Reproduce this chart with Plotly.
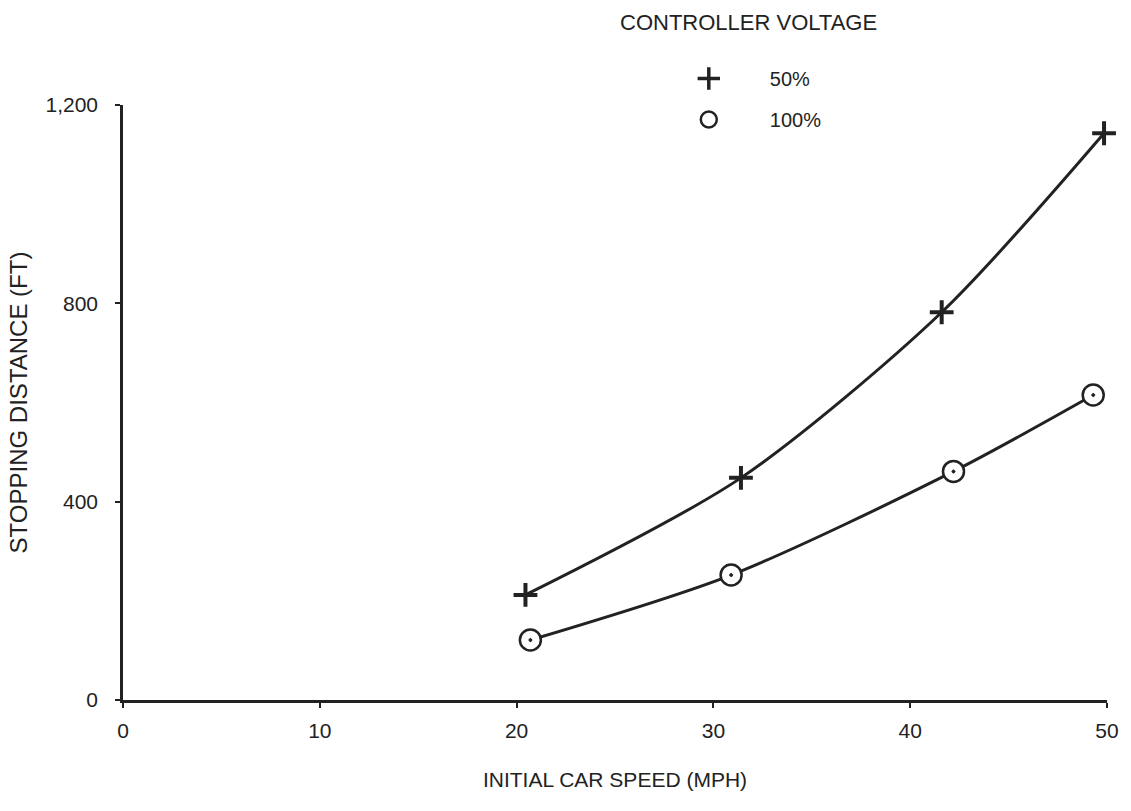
import plotly.graph_objects as go

# Data
speed_50 = [20.45, 31.4, 41.6, 49.85]
dist_50 = [212, 448, 782, 1143]
speed_100 = [20.7, 30.9, 42.2, 49.3]
dist_100 = [121, 252, 461, 615]

x_ticks = [0, 10, 20, 30, 40, 50]
y_ticks = [0, 400, 800, 1200]
y_tick_labels = ["0", "400", "800", "1,200"]

ink = "#222222"
font_family = "Liberation Sans, Arial, sans-serif"

W, H = 1131, 811
L, T, PW, PH = 123, 105, 990, 595

fig = go.Figure()

fig.add_trace(go.Scatter(
    x=speed_50, y=dist_50, mode="lines+markers",
    line=dict(color=ink, width=3, shape="spline", smoothing=0.8),
    marker=dict(symbol="cross-thin", size=17, line=dict(color=ink, width=4)),
    showlegend=False, cliponaxis=False,
))
fig.add_trace(go.Scatter(
    x=speed_100, y=dist_100, mode="lines+markers",
    line=dict(color=ink, width=3, shape="spline", smoothing=0.8),
    marker=dict(symbol="circle-dot", size=21, color="white",
                line=dict(color=ink, width=2.5)),
    showlegend=False, cliponaxis=False,
))
# small centre dots of the circle markers
fig.add_trace(go.Scatter(
    x=speed_100, y=dist_100, mode="markers",
    marker=dict(symbol="circle", size=3, color=ink),
    showlegend=False, hoverinfo="skip", cliponaxis=False,
))

# Legend entries (markers only)
fig.add_trace(go.Scatter(
    x=[None], y=[None], mode="markers", name="50%", legendgroup="a",
    marker=dict(symbol="cross-thin", size=16, line=dict(color=ink, width=3.5)),
))
fig.add_trace(go.Scatter(
    x=[None], y=[None], mode="markers", name="100%", legendgroup="b",
    marker=dict(symbol="circle-open", size=21, color=ink, line=dict(color=ink, width=2.5)),
))

fig.add_annotation(
    text="CONTROLLER VOLTAGE", xref="paper", yref="paper",
    x=(752 - L) / PW, y=1 + (T - 22) / PH, yanchor="middle", showarrow=False,
    font=dict(size=22, color=ink, family=font_family),
)

fig.update_layout(
    width=W, height=H,
    margin=dict(l=L, r=W - L - PW, t=T, b=H - T - PH),
    paper_bgcolor="white", plot_bgcolor="white",
    font=dict(family=font_family, color=ink, size=19),
    showlegend=True,
    legend=dict(
        x=(651 - L) / PW, y=1 + (T - 59) / PH, xanchor="left", yanchor="top",
        bgcolor="rgba(0,0,0,0)", font=dict(size=20, color=ink),
        tracegroupgap=12, itemwidth=112,
    ),
    xaxis=dict(
        range=[0, 50], tickmode="array", tickvals=x_ticks,
        showline=True, linecolor=ink, linewidth=2.5, showgrid=False, zeroline=False,
        ticks="outside", ticklen=5, tickwidth=1.5, tickcolor=ink,
        tickfont=dict(size=21, color=ink), ticklabelstandoff=5,
        title=dict(text="INITIAL CAR SPEED (MPH)", font=dict(size=21, color=ink), standoff=32),
    ),
    yaxis=dict(
        range=[0, 1200], tickmode="array", tickvals=y_ticks, ticktext=y_tick_labels,
        showline=True, linecolor=ink, linewidth=2.5, showgrid=False, zeroline=False,
        ticks="outside", ticklen=5, tickwidth=1.5, tickcolor=ink,
        tickfont=dict(size=21, color=ink), ticklabelstandoff=13,
        title=dict(text="STOPPING DISTANCE (FT)", font=dict(size=24, color=ink), standoff=12),
    ),
)

# remove the page's default 8px body margin so the figure fills the window exactly
fig.write_html(
    "out.html",
    config={"displayModeBar": False},
    post_script="document.body.style.margin='0';document.body.style.overflow='hidden';",
)
